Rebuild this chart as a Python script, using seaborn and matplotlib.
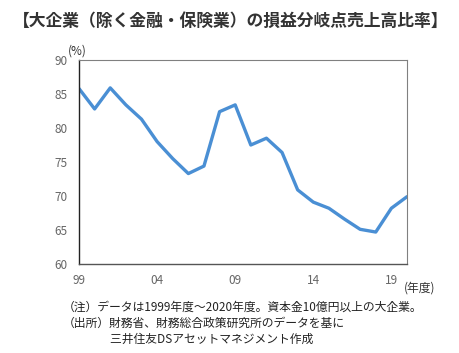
import pandas as pd
import seaborn as sns
import matplotlib.pyplot as plt

years = list(range(1999, 2021))
ratio = [85.8, 82.8, 85.9, 83.4, 81.3, 78.0, 75.5, 73.3, 74.4, 82.4, 83.4,
         77.5, 78.5, 76.4, 70.9, 69.1, 68.2, 66.6, 65.1, 64.7, 68.2, 69.9]
tick_years = [1999, 2004, 2009, 2014, 2019]
tick_labels = ["99", "04", "09", "14", "19"]

df = pd.DataFrame({"year": years, "ratio": ratio})

sns.set_style("white")
plt.rcParams["font.family"] = ["Noto Sans CJK JP", "DejaVu Sans"]

fig = plt.figure(figsize=(4.6, 3.53), dpi=100)
ax = fig.add_axes([79 / 460, 1 - 264 / 353, 328 / 460, 204 / 353])

sns.lineplot(data=df, x="year", y="ratio", ax=ax, color="#4a8fd4", linewidth=2.4)

ax.set_xlim(1999, 2020)
ax.set_ylim(60, 90)
ax.set_yticks(range(60, 91, 5))
ax.set_xticks(tick_years)
ax.set_xticklabels(tick_labels)
ax.set_xlabel("")
ax.set_ylabel("")

for side in ["top", "right"]:
    ax.spines[side].set_color("#808080")
    ax.spines[side].set_linewidth(0.8)
ax.spines["left"].set_color("#222222")
ax.spines["bottom"].set_color("#555555")
ax.spines["left"].set_linewidth(1.0)
ax.spines["bottom"].set_linewidth(1.0)

ax.tick_params(axis="x", direction="in", length=3, width=0.8, color="#555555",
               labelsize=8.5, labelcolor="#666666", pad=7)
ax.tick_params(axis="y", length=0, labelsize=8.5, labelcolor="#666666", pad=8)

fig.text(13 / 460, 1 - 21 / 353, "【大企業（除く金融・保険業）の損益分岐点売上高比率】",
         fontsize=12.1, fontweight="bold", color="#333333", va="center", ha="left")
fig.text(68 / 460, 1 - 51 / 353, "(%)", fontsize=8.5, color="#333333",
         va="center", ha="left")
fig.text(404 / 460, 1 - 288 / 353, "(年度)", fontsize=8.5, color="#333333",
         va="center", ha="left")

notes = ["（注）データは1999年度～2020年度。資本金10億円以上の大企業。",
         "（出所）財務省、財務総合政策研究所のデータを基に",
         "　　　　三井住友DSアセットマネジメント作成"]
for i, line in enumerate(notes):
    fig.text(63 / 460, 1 - (307 + 16 * i) / 353, line, fontsize=8.5,
             color="#222222", va="center", ha="left")

fig.savefig("out.png", dpi=100)
